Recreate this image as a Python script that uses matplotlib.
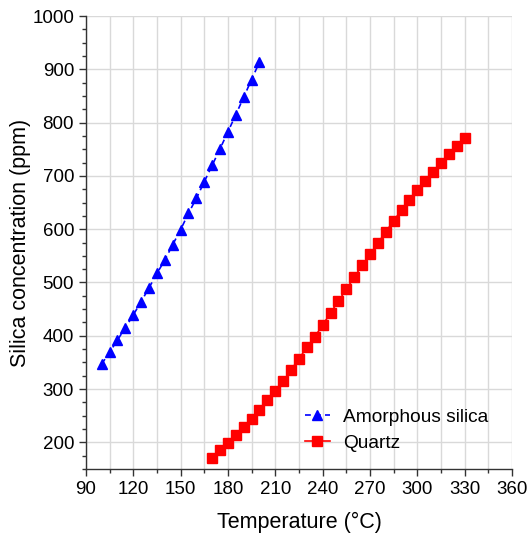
import numpy as np
import matplotlib.pyplot as plt
from matplotlib.ticker import MultipleLocator

plt.rcParams['font.family'] = ['Liberation Sans', 'DejaVu Sans']

# amorphous silica, 100..200 C every 5 C
amorph_T = list(range(100, 201, 5))
amorph_ppm = [347, 369, 392, 415, 439, 464, 490, 517, 542, 571, 599,
              630, 658, 689, 720, 751, 783, 815, 848, 881, 914]

# quartz, 170..330 C every 5 C
quartz_T = list(range(170, 331, 5))
quartz_ppm = [171, 185, 199, 213, 228, 244, 261, 279, 297, 315, 336,
              357, 378, 398, 420, 443, 465, 487, 510, 532, 553, 574,
              595, 616, 636, 655, 673, 690, 708, 725, 741, 757, 772]

fig = plt.figure(figsize=(5.27, 5.39), dpi=100)
ax = fig.add_axes([0.163, 0.130, 0.8085, 0.840])

ax.plot(amorph_T, amorph_ppm, color='#0000ff', linestyle=(0, (3.5, 2.5)), linewidth=1.2,
        marker='^', markersize=7.5, label='Amorphous silica')
ax.plot(quartz_T, quartz_ppm, color='#ff0000', linestyle='-', linewidth=1.2,
        marker='s', markersize=7.5, label='Quartz')

ax.set_xlim(90, 360)
ax.set_ylim(150, 1000)
ax.xaxis.set_major_locator(MultipleLocator(30))
ax.xaxis.set_minor_locator(MultipleLocator(15))
ax.yaxis.set_major_locator(MultipleLocator(100))
ax.yaxis.set_minor_locator(MultipleLocator(25))
ax.set_yticks(range(200, 1001, 100))

ax.grid(True, which='major', axis='both', color='#d9d9d9', linewidth=1.0)
ax.grid(True, which='minor', axis='x', color='#d9d9d9', linewidth=1.0)
ax.set_axisbelow(True)

for s in ['top', 'right']:
    ax.spines[s].set_visible(False)
for s in ['left', 'bottom']:
    ax.spines[s].set_linewidth(1.0)
    ax.spines[s].set_color('#333333')

ax.tick_params(which='major', direction='out', length=5, width=1, labelsize=13.5, colors='#333333', labelcolor='black')
ax.tick_params(which='minor', direction='out', length=3, width=1, colors='#333333')

ax.set_xlabel('Temperature (\u00b0C)', fontsize=15.5, labelpad=10)
ax.set_ylabel('Silica concentration (ppm)', fontsize=15.5, labelpad=1)

ax.legend(loc='lower right', bbox_to_anchor=(0.985, 0.0), frameon=False,
          fontsize=13.8, handlelength=1.3, handletextpad=0.7, labelspacing=0.45)

fig.savefig('out.png', dpi=100)
